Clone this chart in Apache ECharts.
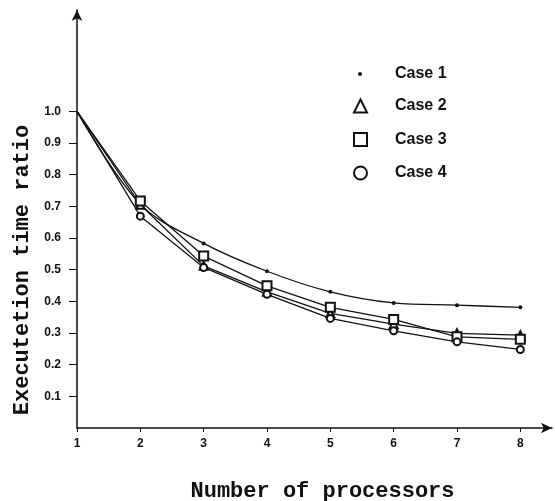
<!DOCTYPE html>
<html>
<head>
    <meta charset="utf-8"/>
    <title>Execution time ratio</title>
    <style>
        html, body {margin: 0; padding: 0; background: #fff;}
    </style>
</head>
<body>
<div id="main" style="width: 555px;height:501px;"></div>
</body>
<script src="https://cdn.jsdelivr.net/npm/echarts@6/dist/echarts.min.js"></script>
<script>
    // data
    var processors = [1, 2, 3, 4, 5, 6, 7, 8];
    var case1 = [1.0, 0.707, 0.583, 0.495, 0.430, 0.395, 0.388, 0.381];
    var case2 = [1.0, 0.705, 0.512, 0.430, 0.362, 0.328, 0.299, 0.293];
    var case3 = [1.0, 0.717, 0.543, 0.449, 0.381, 0.343, 0.288, 0.280];
    var case4 = [1.0, 0.669, 0.507, 0.422, 0.346, 0.307, 0.272, 0.248];
    var xTicks = [1, 2, 3, 4, 5, 6, 7, 8];
    var yTicks = [0.1, 0.2, 0.3, 0.4, 0.5, 0.6, 0.7, 0.8, 0.9, 1.0];

    // no marker on the shared starting point
    function pts(vals) {
        return vals.map(function (v, i) {
            var p = {value: [processors[i], v]};
            if (i === 0) p.symbol = 'none';
            return p;
        });
    }

    var myChart = echarts.init(document.getElementById('main'));

    var titleFont = {fontFamily: 'Liberation Mono', fontSize: 22, fontWeight: 'bold', color: '#111'};
    var tickFont = {fontFamily: 'Liberation Sans', fontSize: 12, fontWeight: 'bold', color: '#111'};
    var legendFont = {fontFamily: 'Liberation Sans', fontSize: 16, fontWeight: 'bold', color: '#111', lineHeight: 14};

    var option = {
        animation: false,
        backgroundColor: '#fff',
        grid: {left: 77, right: 3, top: 10, bottom: 73, containLabel: false, outerBoundsMode: 'none'},
        legend: [{
            data: ['Case 1'],
            icon: 'circle',
            orient: 'vertical',
            left: 353, top: 61,
            itemWidth: 4, itemHeight: 4,
            textStyle: Object.assign({padding: [0, 0, 0, 28]}, legendFont),
            selectedMode: false
        }, {
            data: [
                {name: 'Case 2', icon: 'emptyTriangle'},
                {name: 'Case 3', icon: 'emptyRect'},
                {name: 'Case 4', icon: 'emptyCircle'}
            ],
            orient: 'vertical',
            left: 348, top: 93,
            itemWidth: 13, itemHeight: 13,
            itemGap: 17.5,
            textStyle: Object.assign({padding: [0, 0, 0, 23]}, legendFont),
            selectedMode: false
        }],
        xAxis: {
            type: 'value',
            min: 1, max: 8.5,
            name: 'Number of processors',
            nameLocation: 'middle',
            nameGap: 52,
            nameTextStyle: Object.assign({padding: [0, 0, 0, 16]}, titleFont),
            axisLine: {symbol: ['none', 'arrow'], symbolSize: [8, 11], lineStyle: {color: '#111', width: 1.5}},
            axisTick: {customValues: xTicks, length: 4, lineStyle: {color: '#111'}},
            axisLabel: Object.assign({customValues: xTicks, margin: 10}, tickFont),
            splitLine: {show: false}
        },
        yAxis: {
            type: 'value',
            min: 0, max: 1.32,
            name: 'Executetion time ratio',
            nameLocation: 'middle',
            nameGap: 40,
            nameTextStyle: Object.assign({padding: [0, 102, 0, 0]}, titleFont),
            axisLine: {symbol: ['none', 'arrow'], symbolSize: [8, 11], lineStyle: {color: '#111', width: 1.5}},
            axisTick: {customValues: yTicks, length: 8, lineStyle: {color: '#111'}},
            axisLabel: Object.assign({
                customValues: yTicks, margin: 16,
                formatter: function (v) { return v.toFixed(1); }
            }, tickFont),
            splitLine: {show: false}
        },
        series: [{
            name: 'Case 1',
            type: 'line',
            smooth: 0.35,
            symbol: 'circle',
            symbolSize: 4,
            itemStyle: {color: '#111'},
            lineStyle: {color: '#111', width: 1.3},
            data: pts(case1)
        }, {
            name: 'Case 2',
            type: 'line',
            symbol: 'emptyTriangle',
            symbolSize: 8,
            itemStyle: {color: '#111', borderWidth: 1.3},
            lineStyle: {color: '#111', width: 1.3},
            data: pts(case2)
        }, {
            name: 'Case 3',
            type: 'line',
            symbol: 'emptyRect',
            symbolSize: 9,
            itemStyle: {color: '#111', borderWidth: 1.3},
            lineStyle: {color: '#111', width: 1.3},
            data: pts(case3)
        }, {
            name: 'Case 4',
            type: 'line',
            symbol: 'emptyCircle',
            symbolSize: 7,
            itemStyle: {color: '#111', borderWidth: 1.3},
            lineStyle: {color: '#111', width: 1.3},
            data: pts(case4)
        }]
    };

    myChart.setOption(option);
</script>
</html>
